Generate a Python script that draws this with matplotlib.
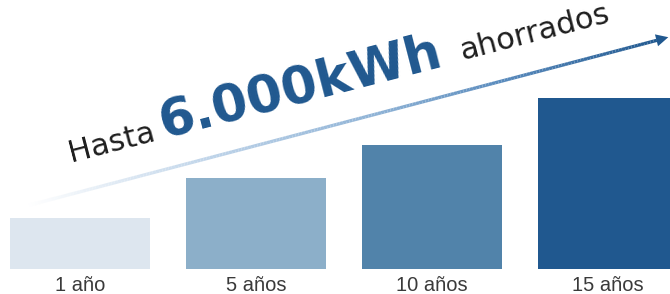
import numpy as np
import matplotlib
matplotlib.use("Agg")
import matplotlib.pyplot as plt
from matplotlib.collections import LineCollection
from matplotlib.colors import LinearSegmentedColormap

# datos (altura relativa de las barras)
periodos = ["1 año", "5 años", "10 años", "15 años"]
ahorro = [51, 91, 124, 171]
colores = ["#dde6ef", "#8cafc9", "#5183aa", "#20588f"]

W, H = 670, 294
fig = plt.figure(figsize=(W / 100, H / 100), dpi=100)
ax = fig.add_axes([0, 0, 1, 1])
ax.set_xlim(-80 / 176, 590 / 176)
ax.set_ylim(-25.3, 268.7)
ax.axis("off")

x = np.arange(len(periodos))
ax.bar(x, ahorro, width=140 / 176, color=colores, linewidth=0)

for i, p in enumerate(periodos):
    ax.text(x[i], -22.3, p, ha="center", va="baseline", fontsize=14.5,
            family="Liberation Sans", color="#3a3a3a")


def fc(px, py):
    # pixeles de la imagen -> fraccion de figura
    return px / W, 1 - py / H


# flecha con degradado
x0, y0, x1, y1 = 26, 206, 660, 39.5
cmap = LinearSegmentedColormap.from_list(
    "flecha", [(0, "#ffffff"), (0.3, "#bcd2e8"), (0.55, "#8fb3d6"),
               (0.75, "#5a8bbd"), (1, "#20588f")])
n = 200
t = np.linspace(0, 1, n + 1)
pts = np.array([fc(x0 + (x1 - x0) * s, y0 + (y1 - y0) * s) for s in t])
segs = np.stack([pts[:-1], pts[1:]], axis=1)
lc = LineCollection(segs, colors=cmap(t[:-1]), linewidths=2.4, transform=fig.transFigure)
ax.add_collection(lc)
ax.annotate("", xy=fc(671, 36.5), xytext=fc(650, 42), xycoords="figure fraction",
            textcoords="figure fraction",
            arrowprops=dict(arrowstyle="-|>", color="#20588f", lw=0, mutation_scale=22))

# titulo inclinado
ang = 14.5
slope = np.tan(np.radians(ang))


def base(px):
    return fc(px, 161 - slope * (px - 73))


ax.text(*base(71), "Hasta", transform=fig.transFigure, rotation=ang, rotation_mode="anchor",
        ha="left", va="baseline", fontsize=22, family="DejaVu Sans", color="#1e1e1e")
ax.text(*base(164), "6.000kWh", transform=fig.transFigure, rotation=ang, rotation_mode="anchor",
        ha="left", va="baseline", fontsize=37, family="DejaVu Sans", fontweight="bold",
        color="#20588f")
ax.text(*base(462), "ahorrados", transform=fig.transFigure, rotation=ang, rotation_mode="anchor",
        ha="left", va="baseline", fontsize=22, family="DejaVu Sans", color="#1e1e1e")

fig.savefig("out.png", dpi=100)
